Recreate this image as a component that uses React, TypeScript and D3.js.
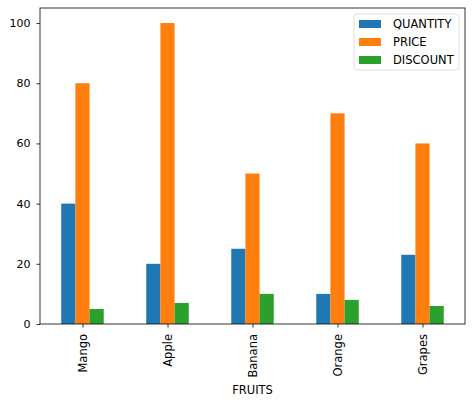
import * as d3 from "d3";
import { useEffect, useRef } from "react";

const fruits = ["Mango", "Apple", "Banana", "Orange", "Grapes"];
const seriesNames = ["QUANTITY", "PRICE", "DISCOUNT"];
const quantity = [40, 20, 25, 10, 23];
const price = [80, 100, 50, 70, 60];
const discount = [5, 7, 10, 8, 6];
const yTicks = [0, 20, 40, 60, 80, 100];
const colors = ["#1f77b4", "#ff7f0e", "#2ca02c"];

const W = 474;
const H = 404;

export default function App() {
  const svgRef = useRef<SVGSVGElement>(null);

  useEffect(() => {
    if (!svgRef.current) return;
    const margin = { top: 8, right: 9, bottom: 80, left: 40 };
    const innerWidth = W - margin.left - margin.right;
    const innerHeight = H - margin.top - margin.bottom;
    const font = "DejaVu Sans, sans-serif";

    const svg = d3.select(svgRef.current);
    svg.selectAll("*").remove();

    const g = svg
      .append("g")
      .attr("transform", `translate(${margin.left},${margin.top})`);

    const series = [quantity, price, discount];

    // pandas-style positions: categories at 0..n-1, xlim -0.5..n-0.5
    const x = d3
      .scaleLinear()
      .domain([-0.5, fruits.length - 0.5])
      .range([0, innerWidth]);
    const y = d3.scaleLinear().domain([0, 105]).range([innerHeight, 0]);

    const barW = 0.5 / series.length;

    series.forEach((vals, si) => {
      g.selectAll(`.bar-${si}`)
        .data(vals)
        .enter()
        .append("rect")
        .attr("x", (_, i) => x(i - 0.25 + si * barW))
        .attr("y", (d) => y(d))
        .attr("width", x(barW) - x(0))
        .attr("height", (d) => y(0) - y(d))
        .attr("fill", colors[si]);
    });

    // Y axis
    const yAxis = g
      .append("g")
      .call(d3.axisLeft(y).tickValues(yTicks).tickSize(3.5).tickPadding(6));
    yAxis.select(".domain").remove();
    yAxis
      .selectAll("text")
      .attr("font-family", font)
      .attr("font-size", 11)
      .attr("fill", "#000");
    yAxis.selectAll("line").attr("stroke", "#000").attr("stroke-width", 0.8);

    // X axis
    const xAxis = g
      .append("g")
      .attr("transform", `translate(0,${innerHeight})`)
      .call(
        d3
          .axisBottom(x)
          .tickValues(d3.range(fruits.length))
          .tickFormat((d) => fruits[d as number])
          .tickSize(3.5)
      );
    xAxis.select(".domain").remove();
    xAxis.selectAll("line").attr("stroke", "#000").attr("stroke-width", 0.8);
    xAxis
      .selectAll("text")
      .attr("font-family", font)
      .attr("font-size", 11.5)
      .attr("fill", "#000")
      .attr("transform", "rotate(-90)")
      .attr("x", -10)
      .attr("y", 0)
      .attr("dy", "0.35em")
      .attr("text-anchor", "end");

    // Frame
    g.append("rect")
      .attr("width", innerWidth)
      .attr("height", innerHeight)
      .attr("fill", "none")
      .attr("stroke", "#000")
      .attr("stroke-width", 0.8);

    // X label
    g.append("text")
      .attr("x", innerWidth / 2)
      .attr("y", innerHeight + 70)
      .attr("text-anchor", "middle")
      .attr("font-family", font)
      .attr("font-size", 11.5)
      .text("FRUITS");

    // Legend
    const legend = g
      .append("g")
      .attr("transform", `translate(${innerWidth - 111},6)`);
    legend
      .append("rect")
      .attr("width", 105)
      .attr("height", 56)
      .attr("rx", 2.5)
      .attr("fill", "#fff")
      .attr("fill-opacity", 0.8)
      .attr("stroke", "#d6d6d6")
      .attr("stroke-width", 0.8);
    seriesNames.forEach((name, i) => {
      const row = legend
        .append("g")
        .attr("transform", `translate(5,${10 + i * 18})`);
      row
        .append("rect")
        .attr("width", 22)
        .attr("height", 8)
        .attr("y", -4)
        .attr("fill", colors[i]);
      row
        .append("text")
        .attr("x", 34)
        .attr("dy", "0.35em")
        .attr("font-family", font)
        .attr("font-size", 11.5)
        .text(name);
    });
  }, []);

  return (
    <svg
      ref={svgRef}
      width={W}
      height={H}
      style={{ position: "absolute", left: 0, top: 0, background: "#fff" }}
    />
  );
}
